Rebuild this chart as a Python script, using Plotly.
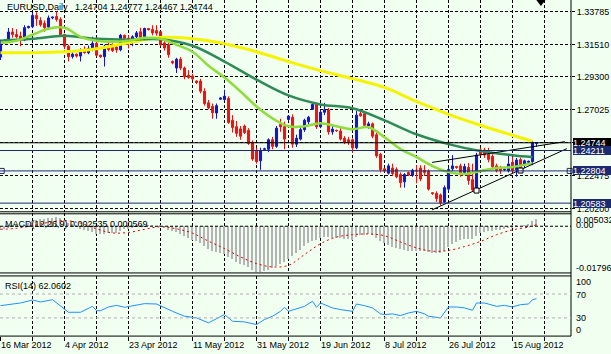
import plotly.graph_objects as go

W, H = 611, 354
FONT = "Liberation Sans, Arial, sans-serif"
BG = "#F0FFF0"

# ---------------- data ----------------
bar_idx = list(range(135))

opens = [
    1.3065, 1.3177, 1.3181, 1.3238, 1.3221, 1.3210, 1.3183, 1.3268,
    1.3275, 1.3352, 1.3318, 1.3298, 1.3272, 1.3335, 1.3345, 1.3325,
    1.3220, 1.3140, 1.3068, 1.3085, 1.3072, 1.3110, 1.3095, 1.3125,
    1.3160, 1.3078, 1.3068, 1.3140, 1.3130, 1.3135, 1.3115, 1.3215,
    1.3195, 1.3165, 1.3205, 1.3240, 1.3192, 1.3262, 1.3255, 1.3247,
    1.3240, 1.3163, 1.3150, 1.3035, 1.2990, 1.3050, 1.2990, 1.2940,
    1.2935, 1.2900, 1.2900, 1.2830, 1.2750, 1.2725, 1.2680, 1.2775,
    1.2772, 1.2780, 1.2630, 1.2585, 1.2570, 1.2590, 1.2560, 1.2475,
    1.2420, 1.2350, 1.2430, 1.2430, 1.2495, 1.2450, 1.2600, 1.2585,
    1.2635, 1.2650, 1.2465, 1.2500, 1.2565, 1.2620, 1.2705, 1.2745,
    1.2585, 1.2685, 1.2700, 1.2550, 1.2560, 1.2555, 1.2505, 1.2495,
    1.2495, 1.2440, 1.2675, 1.2675, 1.2590, 1.2605, 1.2530, 1.2395,
    1.2295, 1.2265, 1.2300, 1.2290, 1.2255, 1.2205, 1.2270, 1.2250,
    1.2285, 1.2300, 1.2285, 1.2280, 1.2130, 1.2125, 1.2115, 1.2065,
    1.2155, 1.2295, 1.2310, 1.2315, 1.2270, 1.2305, 1.2220, 1.2155,
    1.2425, 1.2425, 1.2395, 1.2380, 1.2315, 1.2305, 1.2290, 1.2282,
    1.2340, 1.2288, 1.2358, 1.2325, 1.2340, 1.2345, 1.24704,
]
highs = [
    1.3185, 1.3186, 1.3266, 1.3266, 1.3258, 1.3240, 1.3285, 1.3282,
    1.3370, 1.3375, 1.3340, 1.3318, 1.3352, 1.3346, 1.3380, 1.3340,
    1.3226, 1.3150, 1.3105, 1.3090, 1.3125, 1.3140, 1.3145, 1.3205,
    1.3190, 1.3082, 1.3150, 1.3175, 1.3160, 1.3150, 1.3225, 1.3220,
    1.3215, 1.3215, 1.3245, 1.3268, 1.3268, 1.3266, 1.3285, 1.3285,
    1.3246, 1.3175, 1.3165, 1.3042, 1.3060, 1.3065, 1.3000, 1.2975,
    1.2950, 1.2905, 1.2915, 1.2850, 1.2770, 1.2745, 1.2745, 1.2790,
    1.2840, 1.2795, 1.2665, 1.2625, 1.2590, 1.2600, 1.2575, 1.2490,
    1.2440, 1.2440, 1.2440, 1.2505, 1.2515, 1.2590, 1.2640, 1.2620,
    1.2665, 1.2670, 1.2530, 1.2580, 1.2640, 1.2660, 1.2745, 1.2750,
    1.2700, 1.2750, 1.2715, 1.2590, 1.2565, 1.2575, 1.2520, 1.2515,
    1.2505, 1.2695, 1.2690, 1.2690, 1.2620, 1.2615, 1.2545, 1.2405,
    1.2300, 1.2330, 1.2330, 1.2305, 1.2270, 1.2265, 1.2275, 1.2295,
    1.2320, 1.2320, 1.2320, 1.2290, 1.2135, 1.2140, 1.2125, 1.2180,
    1.2305, 1.2390, 1.2315, 1.2330, 1.2330, 1.2335, 1.2330, 1.2405,
    1.2440, 1.2440, 1.2440, 1.2395, 1.2330, 1.2315, 1.2295, 1.2385,
    1.2375, 1.2370, 1.2372, 1.2358, 1.2352, 1.2485, 1.24777,
]
lows = [
    1.3045, 1.3168, 1.3172, 1.3198, 1.3194, 1.3140, 1.3175, 1.3262,
    1.3265, 1.3280, 1.3275, 1.3240, 1.3262, 1.3326, 1.3310, 1.3205,
    1.3120, 1.3035, 1.3055, 1.3062, 1.3035, 1.3088, 1.3085, 1.3105,
    1.3070, 1.3060, 1.3000, 1.3105, 1.3100, 1.3095, 1.3105, 1.3185,
    1.3125, 1.3140, 1.3195, 1.3185, 1.3180, 1.3248, 1.3215, 1.3212,
    1.3140, 1.3110, 1.3060, 1.3015, 1.2955, 1.2975, 1.2912, 1.2915,
    1.2905, 1.2880, 1.2815, 1.2730, 1.2705, 1.2640, 1.2640, 1.2770,
    1.2760, 1.2605, 1.2545, 1.2515, 1.2495, 1.2535, 1.2460, 1.2350,
    1.2330, 1.2288, 1.2420, 1.2410, 1.2430, 1.2440, 1.2550, 1.2430,
    1.2625, 1.2440, 1.2445, 1.2490, 1.2550, 1.2600, 1.2700, 1.2570,
    1.2575, 1.2665, 1.2530, 1.2530, 1.2550, 1.2490, 1.2465, 1.2460,
    1.2405, 1.2430, 1.2655, 1.2585, 1.2570, 1.2505, 1.2370, 1.2270,
    1.2275, 1.2255, 1.2245, 1.2230, 1.2165, 1.2165, 1.2245, 1.2240,
    1.2195, 1.2210, 1.2245, 1.2145, 1.2115, 1.2067, 1.2042, 1.2060,
    1.2140, 1.2280, 1.2295, 1.2240, 1.2255, 1.2185, 1.2135, 1.2135,
    1.2385, 1.2370, 1.2340, 1.2300, 1.2270, 1.2260, 1.2280, 1.2270,
    1.2270, 1.2240, 1.2285, 1.2300, 1.2330, 1.2320, 1.24467,
]
closes = [
    1.3177, 1.3181, 1.3238, 1.3220, 1.3204, 1.3183, 1.3268, 1.3275,
    1.3352, 1.3330, 1.3288, 1.3268, 1.3335, 1.3340, 1.3325, 1.3220,
    1.3140, 1.3068, 1.3085, 1.3072, 1.3110, 1.3095, 1.3125, 1.3160,
    1.3078, 1.3068, 1.3140, 1.3118, 1.3110, 1.3115, 1.3215, 1.3195,
    1.3165, 1.3205, 1.3232, 1.3192, 1.3262, 1.3255, 1.3232, 1.3230,
    1.3150, 1.3128, 1.3082, 1.3025, 1.3050, 1.2990, 1.2930, 1.2925,
    1.2915, 1.2890, 1.2830, 1.2745, 1.2715, 1.2682, 1.2730, 1.2782,
    1.2795, 1.2615, 1.2580, 1.2540, 1.2520, 1.2545, 1.2470, 1.2362,
    1.2345, 1.2420, 1.2432, 1.2495, 1.2450, 1.2575, 1.2585, 1.2500,
    1.2658, 1.2465, 1.2505, 1.2565, 1.2630, 1.2650, 1.2738, 1.2585,
    1.2685, 1.2702, 1.2550, 1.2568, 1.2558, 1.2500, 1.2478, 1.2475,
    1.2440, 1.2665, 1.2660, 1.2595, 1.2605, 1.2520, 1.2385, 1.2290,
    1.2280, 1.2315, 1.2262, 1.2240, 1.2200, 1.2255, 1.2252, 1.2285,
    1.2280, 1.2225, 1.2270, 1.2155, 1.2125, 1.2090, 1.2060, 1.2165,
    1.2290, 1.2315, 1.2305, 1.2262, 1.2310, 1.2215, 1.2150, 1.2390,
    1.2395, 1.2390, 1.2360, 1.2310, 1.2285, 1.2285, 1.2292, 1.2328,
    1.2282, 1.2355, 1.2300, 1.2350, 1.2346, 1.2477, 1.24744,
]

ma_slow_bars = [0, 8, 16, 24, 32, 40, 48, 56, 64, 72, 80, 88, 96, 104, 112, 120, 128, 133]
ma_slow_vals = [1.3095, 1.3095, 1.3102, 1.3123, 1.3164, 1.3200, 1.3191, 1.3157, 1.3102,
                1.3034, 1.2972, 1.2917, 1.2856, 1.2759, 1.2670, 1.2595, 1.2526, 1.2485]
ma_mid_vals = [1.3178, 1.3191, 1.3212, 1.3191, 1.3185, 1.3188, 1.3143, 1.3034, 1.2910,
               1.2801, 1.2739, 1.2712, 1.2629, 1.2533, 1.2465, 1.2417, 1.2389, 1.2376]
ma_fast_bars = [0, 4, 8, 12, 16, 20, 24, 28, 32, 36, 40, 44, 48, 52, 56, 60, 64, 68,
                72, 76, 80, 84, 88, 92, 96, 100, 104, 108, 112, 116, 120, 124, 128, 132, 133]
ma_fast_vals = [1.3164, 1.3178, 1.3219, 1.3260, 1.3267, 1.3205, 1.3178, 1.3171, 1.3178,
                1.3198, 1.3191, 1.3150, 1.3102, 1.3006, 1.2924, 1.2828, 1.2725, 1.2643,
                1.2588, 1.2588, 1.2609, 1.2588, 1.2568, 1.2581, 1.2513, 1.2431, 1.2376,
                1.2314, 1.2273, 1.2259, 1.2280, 1.2300, 1.2307, 1.2328, 1.2334]

# MACD(12,26,9)
macd_main = [
    -0.0015, -0.0012, -0.0008, -0.0005, -0.0003, 0.0000, 0.0005, 0.0010, 0.0018, 0.0024,
    0.0027, 0.0028, 0.0031, 0.0032, 0.0033, 0.0030, 0.0022, 0.0012,
    0.0005, -0.0003, -0.0010, -0.0015, -0.0020, -0.0024, -0.0030, -0.0032, -0.0030,
    -0.0028, -0.0027, -0.0026, -0.0018,
    -0.0013, -0.0010, -0.0008, -0.0005, -0.0002, 0.0000,
    0.0001, 0.0001, 0.0000, -0.0004, -0.0008, -0.0014,
    -0.0018, -0.0024, -0.0031, -0.0038, -0.0046, -0.0053, -0.0060, -0.0068,
    -0.0078, -0.0088, -0.0098, -0.0102, -0.0106, -0.0110,
    -0.0120, -0.0130, -0.0139, -0.0147, -0.0152, -0.0158,
    -0.0170, -0.0178, -0.01796, -0.0177,
    -0.0170, -0.0164, -0.0155, -0.0148, -0.0142, -0.0130,
    -0.0118, -0.0105, -0.0092, -0.0078, -0.0065, -0.0058, -0.0055, -0.0048,
    -0.0042, -0.0042, -0.0045, -0.0046, -0.0048, -0.0050, -0.0052, -0.0056, -0.0042, -0.0036,
    -0.0034, -0.0033, -0.0037, -0.0048, -0.0060, -0.0068, -0.0074,
    -0.0080, -0.0086, -0.0090, -0.0094, -0.0096, -0.0098,
    -0.0098, -0.0097, -0.0098, -0.0102, -0.0104, -0.0106, -0.0107, -0.0098,
    -0.0082, -0.0070, -0.0062, -0.0056, -0.0051, -0.0049, -0.0052,
    -0.0038, -0.0028, -0.0022, -0.0019, -0.0018, -0.0017, -0.0016, -0.0013,
    -0.0009, -0.0007, -0.0003, 0.0000, 0.0003, 0.0005, 0.0018, 0.002535,
]
signal_bars = [0, 4, 8, 12, 16, 20, 24, 28, 32, 36, 40, 44, 48, 52, 56, 60, 64, 68,
               72, 76, 80, 84, 88, 92, 96, 100, 104, 108, 112, 116, 120, 124, 128, 132, 134]
signal_vals = [-0.0012, -0.0008, 0.0002, 0.0015, 0.0022, 0.0012, -0.0010, -0.0026, -0.0024,
               -0.0012, -0.0002, -0.0010, -0.0027, -0.0058, -0.0087, -0.0119, -0.0145, -0.0158,
               -0.0152, -0.0110, -0.0068, -0.0042, -0.0033, -0.0030, -0.0037, -0.0061, -0.0084,
               -0.0097, -0.0094, -0.0079, -0.0059, -0.0033, -0.0014, -0.0003, 0.000569]

# RSI(14)
rsi_bars = [0, 2, 5, 8, 10, 13, 14, 16, 17, 20, 22, 23, 24, 25, 27, 29, 31, 34, 36, 39,
            41, 43, 46, 49, 52, 55, 56, 58, 61, 64, 66, 68, 70, 71, 72, 76, 78, 79, 80,
            83, 85, 88, 89, 91, 93, 95, 96, 98, 100, 102, 104, 106, 107, 110, 112, 114,
            116, 118, 119, 121, 124, 126, 128, 130, 132, 133, 134]
rsi_vals = [50.5, 52, 55, 60, 56.7, 60.5, 55, 44, 39.4, 39.4, 46.7, 49.4, 42.2, 42, 48.3,
            51, 47.8, 52.2, 53.9, 53.3, 46.7, 41, 32.8, 30, 21.7, 32.8, 35.6, 24.4, 23.3,
            18.9, 27.2, 32.8, 41, 47.8, 41, 49.4, 57.8, 47.8, 55, 46.7, 43.9, 41, 53.3,
            50.5, 46.7, 36.7, 35.6, 36.7, 33.9, 38.3, 41, 36.7, 32.8, 30, 48.3, 48.3,
            46.7, 42.8, 55, 55, 49.4, 51, 48.3, 52.2, 53.3, 60.5, 62.0602]

date_tick_bars = [0, 16, 32, 48, 64, 80, 96, 112, 128]
date_labels = ["16 Mar 2012", "4 Apr 2012", "23 Apr 2012", "11 May 2012", "31 May 2012",
               "19 Jun 2012", "8 Jul 2012", "26 Jul 2012", "15 Aug 2012"]
grid_bars = list(range(0, 140, 8))

price_ticks = [1.33785, 1.31510, 1.29300, 1.27025, 1.24750, 1.22475, 1.20200]
price_tick_text = ["1.33785", "1.31510", "1.29300", "1.27025", "1.24750", "1.22475", "1.20200"]

level_prices = [1.24211, 1.22804, 1.20583]
level_text = ["1.24211", "1.22804", "1.20583"]
bid_price = 1.24744

trend_lower_bars = [107.9, 141.6]
trend_lower_vals = [1.2012, 1.2434]
trend_upper_bars = [107.9, 141.1]
trend_upper_vals = [1.2339, 1.2482]
anchor_bars = [119, 130]
anchor_vals = [1.2145, 1.2283]

NB = "\u00a0"
header = "EURUSD,Daily" + NB * 3 + "1.24704 1.24777 1.24467 1.24744"
macd_label = "MACD(12,26,9) 0.002535 0.000569"
rsi_label = "RSI(14) 62.0602"

# ---------------- geometry ----------------
PLOT_R = 571.0
XDOM = [0, PLOT_R / W]
XR = [-0.125, -0.125 + PLOT_R / 4.0]


def py(p):
    return 1 - p / H


MAIN_DOM = [py(213), 1]
MACD_DOM = [py(274), py(214.5)]
RSI_DOM = [py(337.7), py(277.7)]
MAIN_RANGE = [1.34587 - 0.0006855 * 213, 1.34587]
MACD_RANGE = [-0.01796, 0.005032]

NAVY = "#1c2a6e"
UP = "#1414c8"
DOWN = "#ee1111"

fig = go.Figure()

# moving averages
fig.add_trace(go.Scatter(x=ma_slow_bars, y=ma_slow_vals, mode="lines", line=dict(color="#f4f400", width=3, shape="spline"),
                         xaxis="x", yaxis="y", hoverinfo="skip", showlegend=False))
fig.add_trace(go.Scatter(x=ma_slow_bars, y=ma_mid_vals, mode="lines", line=dict(color="#2e8b57", width=2.5, shape="spline"),
                         xaxis="x", yaxis="y", hoverinfo="skip", showlegend=False))
fig.add_trace(go.Scatter(x=ma_fast_bars, y=ma_fast_vals, mode="lines", line=dict(color="#8fdc3c", width=2.5, shape="spline"),
                         xaxis="x", yaxis="y", hoverinfo="skip", showlegend=False))

# candles
fig.add_trace(go.Candlestick(
    x=bar_idx, open=opens, high=highs, low=lows, close=closes,
    increasing=dict(line=dict(color=UP, width=1), fillcolor=UP),
    decreasing=dict(line=dict(color=DOWN, width=1), fillcolor=DOWN),
    whiskerwidth=0, xaxis="x", yaxis="y", hoverinfo="skip", showlegend=False))

# trend lines
fig.add_trace(go.Scatter(x=trend_lower_bars, y=trend_lower_vals, mode="lines", line=dict(color="black", width=1),
                         xaxis="x", yaxis="y", hoverinfo="skip", showlegend=False, cliponaxis=False))
fig.add_trace(go.Scatter(x=trend_upper_bars, y=trend_upper_vals, mode="lines", line=dict(color="black", width=1),
                         xaxis="x", yaxis="y", hoverinfo="skip", showlegend=False, cliponaxis=False))
fig.add_trace(go.Scatter(x=anchor_bars, y=anchor_vals, mode="markers",
                         marker=dict(symbol="square", size=5, color="white", line=dict(color="black", width=1)),
                         xaxis="x", yaxis="y", hoverinfo="skip", showlegend=False))
fig.add_trace(go.Scatter(x=[0.3, 142.3], y=[level_prices[1], level_prices[1]], mode="markers",
                         marker=dict(symbol="square", size=5, color="white", line=dict(color=NAVY, width=1)),
                         xaxis="x", yaxis="y", hoverinfo="skip", showlegend=False, cliponaxis=False))
# chart-shift marker at top
fig.add_trace(go.Scatter(x=[135.1], y=[MAIN_RANGE[1] - 0.0006855 * 2], mode="markers",
                         marker=dict(symbol="triangle-down", size=8, color="black"),
                         xaxis="x", yaxis="y", hoverinfo="skip", showlegend=False, cliponaxis=False))

# MACD
fig.add_trace(go.Bar(x=bar_idx, y=macd_main, width=0.28, marker=dict(color="#b4b4b4", line=dict(width=0)),
                     xaxis="x2", yaxis="y2", hoverinfo="skip", showlegend=False))
fig.add_trace(go.Scatter(x=signal_bars, y=signal_vals, mode="lines",
                         line=dict(color="#e00000", width=1, dash="2px,3px", shape="spline"),
                         xaxis="x2", yaxis="y2", hoverinfo="skip", showlegend=False))

# RSI
fig.add_trace(go.Scatter(x=rsi_bars, y=rsi_vals, mode="lines", line=dict(color="#1e90ff", width=1),
                         xaxis="x3", yaxis="y3", hoverinfo="skip", showlegend=False))

GRID = dict(showgrid=True, gridcolor="black", gridwidth=1, griddash="3px,2px")
xcommon = dict(domain=XDOM, range=XR, tickmode="array", tickvals=grid_bars, showticklabels=False,
               zeroline=False, showline=False, fixedrange=True, **GRID)

shapes = []
# horizontal levels
for p in level_prices:
    shapes.append(dict(type="line", xref="x domain", yref="y", x0=0, x1=1, y0=p, y1=p,
                       line=dict(color=NAVY, width=1)))
shapes.append(dict(type="line", xref="x domain", yref="y", x0=0, x1=1, y0=bid_price, y1=bid_price,
                   line=dict(color="black", width=1)))
# panel borders
for ypx in [213, 215, 274.5, 277.5, 338]:
    shapes.append(dict(type="line", xref="paper", yref="paper", x0=0, x1=PLOT_R / W, y0=py(ypx), y1=py(ypx),
                       line=dict(color="black", width=1)))
shapes.append(dict(type="line", xref="paper", yref="paper", x0=PLOT_R / W, x1=PLOT_R / W, y0=1, y1=py(338),
                   line=dict(color="black", width=1)))
# MACD zero level
shapes.append(dict(type="line", xref="x2 domain", yref="y2", x0=0, x1=1, y0=0, y1=0,
                   line=dict(color="black", width=1, dash="3px,2px")))
# RSI levels
for lv in [70, 30]:
    shapes.append(dict(type="line", xref="x3 domain", yref="y3", x0=0, x1=1, y0=lv, y1=lv,
                       line=dict(color="#b0b0b0", width=1, dash="3px,3px")))

ann = []
tf = dict(family=FONT, size=9, color="black")
ann.append(dict(text=header, xref="paper", yref="paper", x=5 / W, y=py(7), xanchor="left", yanchor="middle",
                showarrow=False, font=tf))
ann.append(dict(text=macd_label, xref="paper", yref="paper", x=3 / W, y=py(225), xanchor="left", yanchor="middle",
                showarrow=False, font=tf))
ann.append(dict(text=rsi_label, xref="paper", yref="paper", x=3 / W, y=py(287.5), xanchor="left", yanchor="middle",
                showarrow=False, font=tf))
for b, t in zip(date_tick_bars, date_labels):
    ann.append(dict(text=t, xref="x3", yref="paper", x=b, y=py(346.5), xanchor="left", yanchor="middle",
                    xshift=-2, showarrow=False, font=tf))
# price boxes
ann.append(dict(text=f"{bid_price:.5f}", xref="paper", yref="y", x=573 / W, y=bid_price, xanchor="left",
                yanchor="middle", showarrow=False, bgcolor="black", borderpad=0, borderwidth=0,
                width=38, height=9, align="left", font=dict(family=FONT, size=9, color="white")))
for p, t in zip(level_prices, level_text):
    ann.append(dict(text=t, xref="paper", yref="y", x=573 / W, y=p, xanchor="left",
                    yanchor="middle", showarrow=False, bgcolor=NAVY, borderpad=0, borderwidth=0,
                    width=38, height=9, align="left", font=dict(family=FONT, size=9, color="white")))
# MACD / RSI scale labels
for t, ypx in [("0.005032", 221.5), ("0.00", 226), ("-0.01796", 269.5),
               ("100", 284), ("70", 296.5), ("30", 319.5), ("0", 331.5)]:
    ann.append(dict(text=t, xref="paper", yref="paper", x=574 / W, y=py(ypx), xanchor="left", yanchor="middle",
                    showarrow=False, font=tf))

fig.update_layout(
    width=W, height=H, margin=dict(l=0, r=0, t=0, b=0),
    paper_bgcolor=BG, plot_bgcolor=BG,
    showlegend=False, boxgap=0.25, bargap=0,
    font=dict(family=FONT, size=9, color="black"),
    xaxis=dict(anchor="y", rangeslider=dict(visible=False), **xcommon),
    xaxis2=dict(anchor="y2", **xcommon),
    xaxis3=dict(anchor="y3", ticks="outside", ticklen=4, tickcolor="black", **xcommon),
    yaxis=dict(domain=MAIN_DOM, range=MAIN_RANGE, side="right", anchor="x", tickmode="array",
               tickvals=price_ticks, ticktext=price_tick_text, ticks="outside", ticklen=3,
               tickcolor="black", tickfont=tf, zeroline=False, fixedrange=True, **GRID),
    yaxis2=dict(domain=MACD_DOM, range=MACD_RANGE, anchor="x2", showticklabels=False, showgrid=False,
                zeroline=False, fixedrange=True),
    yaxis3=dict(domain=RSI_DOM, range=[0, 100], anchor="x3", showticklabels=False, showgrid=False,
                zeroline=False, fixedrange=True),
    shapes=shapes, annotations=ann,
)

fig.write_html("out.html", config=dict(displayModeBar=False))
